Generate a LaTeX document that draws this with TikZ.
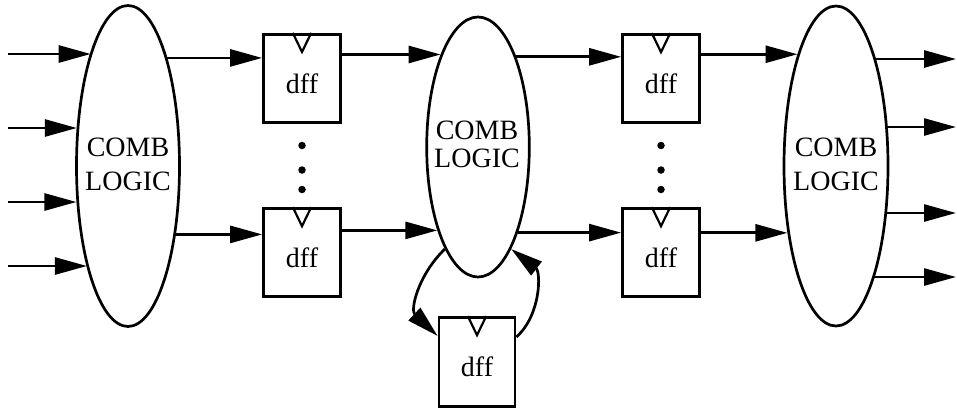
\documentclass[tikz,border=0pt]{standalone}
\usepackage{fontspec}
\setmainfont{Liberation Serif}
\usetikzlibrary{shapes.geometric,arrows.meta}
\begin{document}
\begin{tikzpicture}[x=1pt,y=-1pt,
  line width=2.7pt,
  arr/.style={-{Triangle[length=32pt,width=17pt]}},
  logic/.style={draw,ellipse,inner sep=0pt},
  flop/.style={draw,rectangle,minimum width=77pt,minimum height=88pt,inner sep=0pt},
  lbl/.style={font=\fontsize{28}{34}\selectfont,align=center},
  dot/.style={circle,fill,inner sep=0pt,minimum size=7.5pt}]
\useasboundingbox (0,0) rectangle (957,410);

% combinational logic blocks
\node[logic,minimum width=103pt,minimum height=321pt] (lc) at (128,166) {};
\node[logic,minimum width=102.6pt,minimum height=260pt] (mc) at (478,147) {};
\node[logic,minimum width=104pt,minimum height=320pt] (rc) at (836,166) {};
\node[lbl] (lt) at (128,164.75) {COMB\\LOGIC};
\node[lbl,font=\fontsize{28}{27.5}\selectfont] (mt) at (477,144.4) {COMB\\LOGIC};
\node[lbl] (rt) at (836,164) {COMB\\LOGIC};

% flip-flops
\node[flop] (f1) at (302,78.3) {};
\node[flop] (f2) at (302,252.5) {};
\node[flop] (f3) at (661,78.5) {};
\node[flop] (f4) at (661,252.5) {};
\node[flop,minimum width=76pt,minimum height=89pt] (f5) at (477,362) {};
\foreach \f in {f1,f2,f3,f4,f5} {
  \draw[line width=2.2pt] (\f.north) ++(-9.2,0) -- ++(9.2,19) -- ++(9.2,-19);
  \node[font=\fontsize{28}{34}\selectfont] (\f lbl) at ([yshift=-5pt]\f.center) {dff};
}

% ellipsis dots between the flip-flop rows
\node[dot] (da1) at (302,145.5) {};
\node[dot] (da2) at (302,170) {};
\node[dot] (da3) at (302,189.5) {};
\node[dot] (db1) at (661,145.5) {};
\node[dot] (db2) at (661,170) {};
\node[dot] (db3) at (661,189.5) {};

% primary inputs
\coordinate (i1) at (8,54);
\coordinate (i2) at (8,128);
\coordinate (i3) at (8,202);
\coordinate (i4) at (8,266);
\draw[arr] (i1) -- (i1 -| lc.108.24);
\draw[arr] (i2) -- (i2 -| lc.142.77);
\draw[arr] (i3) -- (i3 -| lc.215.64);
\draw[arr] (i4) -- (i4 -| lc.248.05);

% pipeline connections
\draw[arr] (lc.70.57) -- (lc.70.57 -| f1.west);
\draw[arr] (lc.305.93) -- (lc.305.93 -| f2.west);
\draw[arr] (f1.east |- mc.112.79) -- (mc.112.79);
\draw[arr] (f2.east |- mc.244.98) -- (mc.244.98);
\draw[arr] (mc.67.21) -- (mc.67.21 -| f3.west);
\draw[arr] (mc.295.02) -- (mc.295.02 -| f4.west);
\draw[arr] (f3.east |- rc.109.65) -- (rc.109.65);
\draw[arr] (f4.east |- rc.234.11) -- (rc.234.11);

% primary outputs
\coordinate (o1) at (956,59);
\coordinate (o2) at (956,127);
\coordinate (o3) at (956,213);
\coordinate (o4) at (956,277);
\draw[arr] (o1 -| rc.70.03) -- (o1);
\draw[arr] (o2 -| rc.37.32) -- (o2);
\draw[arr] (o3 -| rc.316.24) -- (o3);
\draw[arr] (o4 -| rc.288.45) -- (o4);

% feedback loop through the lower flip-flop
\draw[arr] (mc.252) .. controls (418,275) and (410,310) .. ([yshift=26pt]f5.west);
\draw[arr] ([yshift=25pt]f5.east) .. controls (541,315) and (541,272) .. (mc.288.6);
\end{tikzpicture}
\end{document}
